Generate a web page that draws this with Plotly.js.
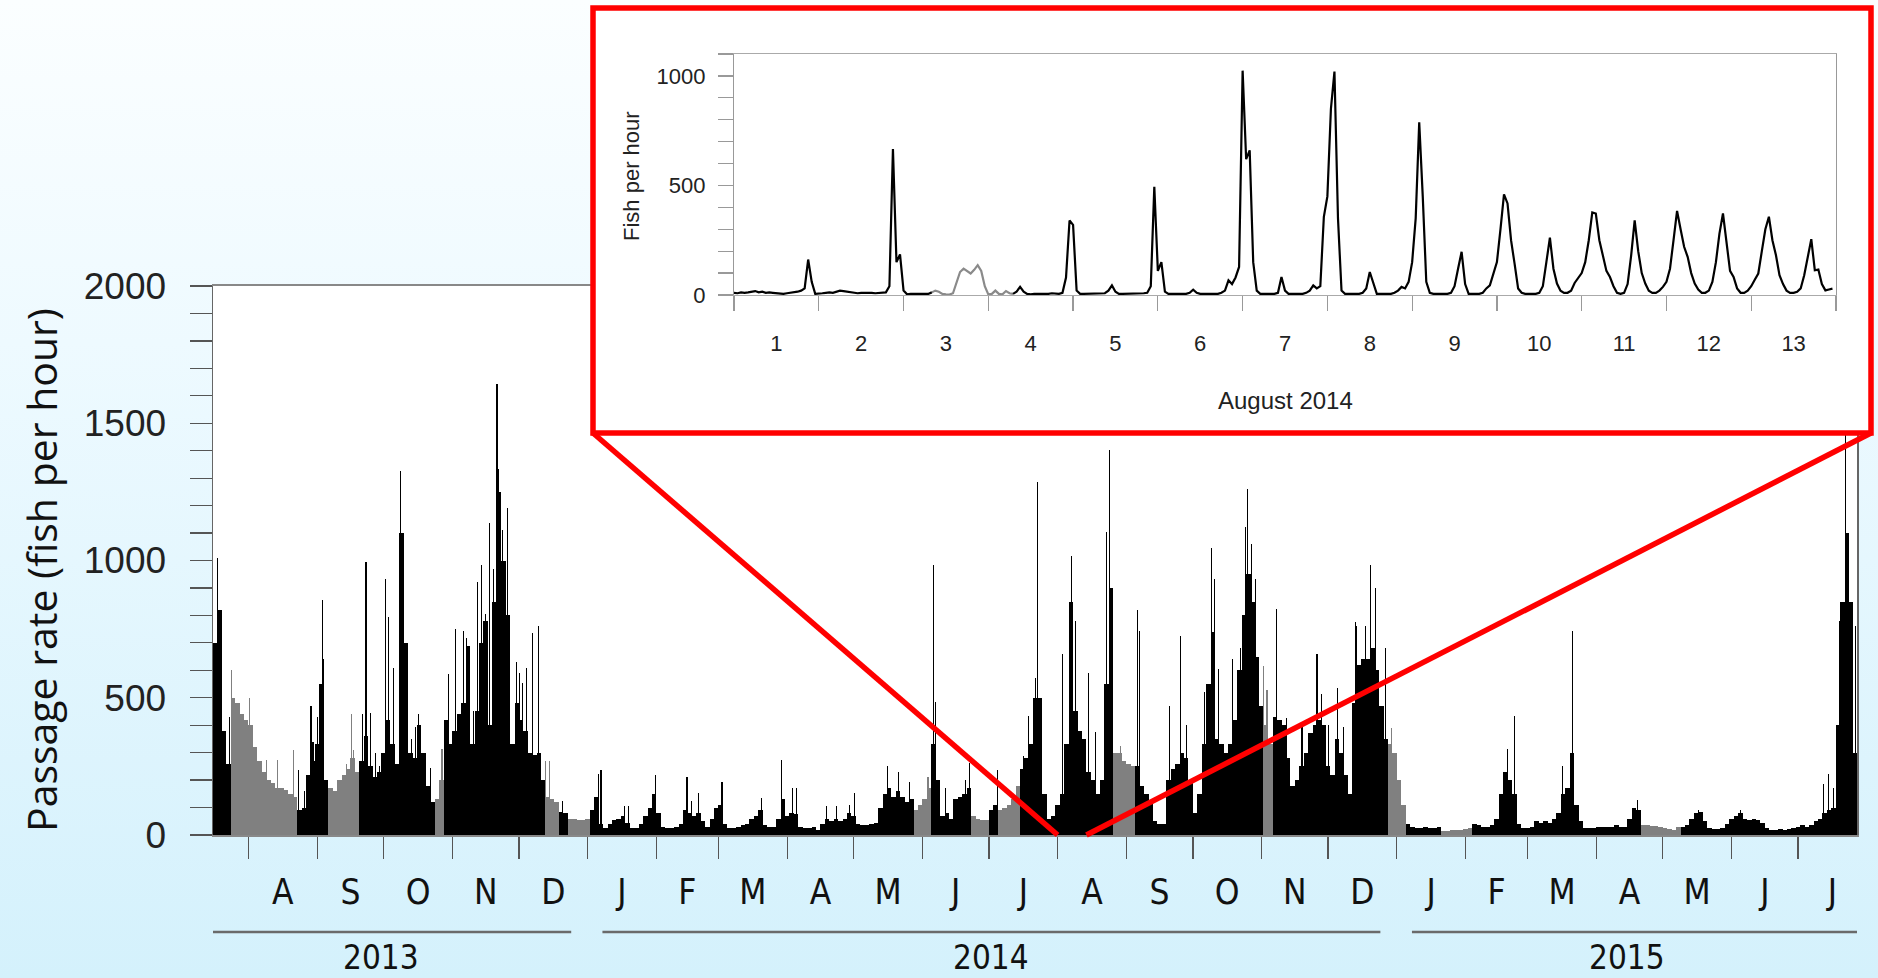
<!DOCTYPE html>
<html><head><meta charset="utf-8">
<script src="https://cdn.plot.ly/plotly-3.0.1.min.js"></script>
<style>
html,body{margin:0;padding:0;}
body{width:1878px;height:978px;overflow:hidden;background:linear-gradient(to bottom,#fbfeff 0%,#eefaff 35%,#d4f1fc 100%);}
#chart{width:1878px;height:978px;}
</style></head><body><div id="chart"></div>
<script>
// ---------------- DATA ----------------
// Main chart: passage rate, one value per 2-day bin starting 16 Jul 2013 (fish per hour)
const binStart = '2013-07-16';
const binDays = 2;
const rateJul2013toDec2013 = [700,820,380,260,500,480,440,420,400,320,
 270,230,200,190,170,170,165,150,140,90,
 100,220,270,330,550,200,170,160,200,220,
 240,280,230,270,360,250,210,230,300,420,
 330,260,1100,700,300,280,400,300,180,120,
 130,200,420,330,380,440,480,690,330,450,
 700,780,400,850,1250,1000,800,330,480,420,
 380,300,290,300,200,140,130,120,85,80,
 60,60,55,55];
const rateDec2013toDec2014 = [60,90,140,40,25,40,55,60,70,45,25,25,40,70,100,150,
 80,30,25,25,30,40,90,80,70,80,
 50,30,60,100,110,40,25,25,30,35,
 40,60,70,90,35,30,30,60,130,70,
 80,75,30,25,25,30,20,40,60,50,
 60,50,60,80,70,40,35,35,40,45,
 100,150,170,140,160,140,120,130,90,110,
 130,170,330,200,70,80,60,130,140,150,
 170,70,60,55,55,90,110,90,100,110,
 130,180,240,280,330,500,500,150,60,70,
 110,150,330,850,450,380,350,230,200,150,
 200,550,900,300,300,270,260,250,250,180,
 150,120,50,40,40,200,240,260,300,280,
 200,80,150,330,550,740,350,330,300,330,
 420,600,800,950,850,650,470,400,330,430,
 420,400,280,180,200,250,300,370,400,420,
 400,250,220,350,300,220,150,480,620,640,
 640,680,600,470,350,330,300];
const rateDec2014toJul2015 = [200,110,40,
 30,25,25,30,25,25,30,15,15,18,
 18,20,22,25,40,35,30,30,35,60,
 150,230,200,150,40,25,25,30,50,45,
 50,45,60,80,150,170,300,110,50,25,
 25,25,30,30,30,30,35,30,30,60,
 100,90,38,36,34,32,28,25,22,20,
 30,30,35,60,80,85,50,25,22,22,
 25,40,60,70,80,60,55,60,55,45,
 25,20,20,22,20,22,25,30,35,30,
 35,50,60,80,90,100,400,850,1100,850,
 300];
// Periods drawn in grey (start inclusive, end exclusive)
const greyPeriods = [
 ['2013-07-24','2013-08-23'],['2013-09-06','2013-09-20'],['2013-10-24','2013-10-28'],
 ['2013-12-13','2013-12-19'],['2013-12-23','2014-01-02'],['2014-05-28','2014-06-05'],
 ['2014-06-23','2014-07-01'],['2014-07-05','2014-07-15'],['2014-08-26','2014-09-05'],
 ['2014-11-02','2014-11-06'],['2014-12-28','2015-01-05'],['2015-01-21','2015-02-04'],
 ['2015-04-21','2015-05-09']];
// Isolated hourly peaks
const spikeBlackDates = ['2013-07-18 05:00','2013-07-23 07:00','2013-08-23 14:00','2013-08-26 02:00','2013-08-29 05:00','2013-08-30 02:00','2013-09-01 07:00','2013-09-03 07:00','2013-09-03 22:00','2013-09-21 14:00','2013-09-23 00:00','2013-09-25 00:00','2013-09-27 05:00','2013-09-29 02:00','2013-10-02 00:00','2013-10-03 05:00','2013-10-05 10:00','2013-10-08 12:00','2013-10-09 22:00','2013-10-13 17:00','2013-10-15 05:00','2013-10-16 14:00','2013-10-22 00:00','2013-10-30 07:00','2013-11-02 14:00','2013-11-06 00:00','2013-11-07 12:00','2013-11-10 12:00','2013-11-12 05:00','2013-11-14 07:00','2013-11-16 02:00','2013-11-17 19:00','2013-11-19 14:00','2013-11-21 02:00','2013-11-21 14:00','2013-11-23 14:00','2013-11-25 22:00','2013-11-29 22:00','2013-12-01 07:00','2013-12-02 14:00','2013-12-04 14:00','2013-12-07 00:00','2013-12-10 00:00','2013-12-20 19:00',
 '2014-01-05 22:00','2014-01-07 00:00','2014-01-17 17:00','2014-01-19 12:00','2014-01-31 12:00','2014-02-14 19:00','2014-02-17 00:00','2014-02-20 00:00','2014-03-02 14:00','2014-03-20 14:00','2014-03-29 14:00','2014-04-03 10:00','2014-04-05 02:00','2014-04-18 22:00','2014-04-23 10:00','2014-04-29 02:00','2014-05-01 10:00','2014-05-16 10:00','2014-05-21 05:00','2014-05-26 05:00','2014-06-06 00:00','2014-06-07 02:00','2014-06-11 07:00','2014-06-20 07:00','2014-06-22 02:00','2014-07-04 22:00','2014-07-16 14:00','2014-07-18 22:00','2014-07-21 22:00','2014-07-23 02:00','2014-08-03 00:00','2014-08-06 17:00','2014-08-07 10:00','2014-08-09 05:00','2014-08-15 00:00','2014-08-17 22:00','2014-08-22 22:00','2014-08-24 07:00','2014-09-06 05:00','2014-09-07 00:00','2014-09-20 12:00','2014-09-25 14:00','2014-09-28 07:00','2014-10-06 07:00','2014-10-09 14:00','2014-10-10 14:00','2014-10-12 14:00','2014-10-18 22:00','2014-10-22 10:00','2014-10-24 14:00','2014-10-25 19:00','2014-10-27 14:00','2014-10-29 02:00','2014-11-07 14:00','2014-11-12 10:00','2014-11-19 05:00','2014-11-22 05:00','2014-11-26 00:00','2014-11-27 22:00','2014-12-01 05:00','2014-12-05 10:00','2014-12-08 00:00','2014-12-13 05:00','2014-12-14 00:00','2014-12-17 17:00','2014-12-20 05:00','2014-12-22 07:00','2014-12-27 00:00',
 '2015-02-19 22:00','2015-02-23 02:00','2015-03-16 19:00','2015-03-21 07:00','2015-04-19 12:00','2015-05-17 00:00','2015-06-04 22:00','2015-07-12 12:00','2015-07-14 17:00','2015-07-17 00:00','2015-07-19 12:00','2015-07-22 05:00','2015-07-27 00:00'];
const spikeBlackValues = [1010,430,237,160,470,340,430,857,640,440,996,445,300,250,933,794,610,1325,945,350,395,440,243,585,750,743,718,452,920,983,806,1135,970,1642,1335,1110,1192,630,590,553,610,737,762,123,
 224,237,104,104,218,211,123,154,192,135,275,173,173,104,104,110,154,250,230,192,983,483,173,200,262,237,287,433,572,1287,660,806,1015,781,590,376,1104,1401,819,743,470,724,401,521,1047,933,604,642,680,1123,1262,1060,933,825,427,401,363,660,515,401,534,395,775,760,762,983,901,680,
 313,433,250,743,129,91,91,186,224,173,781,1800,762];
const spikeGreyDates = ['2013-07-24 12:00','2013-08-01 07:00','2013-08-09 07:00','2013-08-14 07:00','2013-08-21 07:00','2013-09-14 10:00','2013-09-16 14:00','2013-09-17 10:00','2013-10-27 07:00','2013-12-12 22:00','2013-12-14 17:00','2014-06-03 12:00','2014-07-13 14:00','2014-08-29 05:00','2014-11-01 22:00','2014-11-03 10:00','2014-12-29 19:00'];
const spikeGreyValues = [600,500,275,275,310,260,440,310,313,268,268,211,173,325,616,528,389];

const monthLetters = ['A','S','O','N','D','J','F','M','A','M','J','J','A','S','O','N','D','J','F','M','A','M','J','J'];
const monthStarts = ['2013-08-01','2013-09-01','2013-10-01','2013-11-01','2013-12-01','2014-01-01','2014-02-01','2014-03-01','2014-04-01','2014-05-01','2014-06-01','2014-07-01','2014-08-01','2014-09-01','2014-10-01','2014-11-01','2014-12-01','2015-01-01','2015-02-01','2015-03-01','2015-04-01','2015-05-01','2015-06-01','2015-07-01','2015-08-01'];
const yearNames = ['2013','2014','2015'];
const yearLabelDates = ['2013-09-30','2014-07-02','2015-04-15'];
const yearLineStarts = ['2013-07-16','2014-01-07 16:00','2015-01-07 20:00'];
const yearLineEnds = ['2013-12-24 14:00','2014-12-24 14:00','2015-07-27 14:00'];
const mainRange = ['2013-07-16','2015-07-27 14:00'];

// Inset: hourly fish per hour, 1-13 August 2014
const augDays = ['1','2','3','4','5','6','7','8','9','10','11','12','13'];
const fishAug01 = [10,8,12,10,12,15,18,12,15,10,12,10,8,5,5,8,10,10,15,20,30,162,60,5];
const fishAug02 = [5,8,10,12,10,15,20,18,15,12,10,8,10,10,12,10,8,10,10,12,40,666,150,185];
const fishAug03 = [20,3,5,5,8,5,8,5,12,20,15,5,3,2,8,60,105,120,110,98,115,136,110,40];
const fishAug04 = [3,5,20,5,3,18,8,5,15,37,15,5,3,5,5,3,5,5,8,5,5,10,80,340];
const fishAug05 = [320,20,5,5,5,5,5,5,5,8,20,44,15,5,5,5,5,5,5,5,8,10,40,494];
const fishAug06 = [110,150,15,5,5,5,5,5,5,10,24,10,5,5,5,5,5,5,10,20,67,50,80,128];
const fishAug07 = [1024,620,660,150,20,5,5,5,5,5,10,82,20,5,5,5,5,5,10,20,44,30,40,357];
const fishAug08 = [450,850,1020,350,20,5,5,5,5,5,10,30,105,60,5,5,5,5,5,10,20,37,30,60];
const fishAug09 = [150,350,788,450,60,10,5,5,5,5,5,10,40,120,197,50,5,5,5,5,10,30,44,100];
const fishAug10 = [150,300,459,418,250,143,30,10,5,5,5,5,10,40,150,262,120,52,20,10,10,20,55,80];
const fishAug11 = [100,150,250,377,372,250,174,110,82,40,10,5,10,50,180,341,200,100,52,20,10,10,20,37];
const fishAug12 = [60,120,250,384,300,220,174,100,52,25,10,10,20,60,150,280,372,250,110,82,30,10,10,20];
const fishAug13 = [40,70,98,200,300,357,250,181,90,50,20,10,10,15,30,90,180,255,113,116,50,21,25,29];
const insetStart = '2014-08-01';
const insetGrey = ['2014-08-03 08:00','2014-08-04 07:00'];
const insetRange = ['2014-08-01','2014-08-14'];
const zoomSpan = ['2014-08-01','2014-08-14'];

// ---------------- BUILD ----------------
const DAY = 86400000, HOUR = 3600000;
function ms(s){ const p=s.split(' '); const d=p[0].split('-').map(Number); let h=0,mi=0; if(p[1]){const t=p[1].split(':').map(Number);h=t[0];mi=t[1];} return Date.UTC(d[0],d[1]-1,d[2],h,mi); }
const rate = [].concat(rateJul2013toDec2013, rateDec2013toDec2014, rateDec2014toJul2015);
const b0 = ms(binStart);
const binX = [], blackY = [], greyY = [];
const gp = greyPeriods.map(p=>[ms(p[0]),ms(p[1])]);
rate.forEach((v,k)=>{
  const s = b0 + k*binDays*DAY;
  binX.push(s + binDays*DAY/2);
  const isGrey = gp.some(p=>s>=p[0] && s<p[1]);
  blackY.push(isGrey?null:v); greyY.push(isGrey?v:null);
});
const monthMid = [];
for(let i=0;i<monthLetters.length;i++) monthMid.push((ms(monthStarts[i])+ms(monthStarts[i+1]))/2);
const monthTicks = monthStarts.slice(0,monthLetters.length).map(ms);

const fishAll = [].concat(fishAug01,fishAug02,fishAug03,fishAug04,fishAug05,fishAug06,fishAug07,fishAug08,fishAug09,fishAug10,fishAug11,fishAug12,fishAug13);
const i0 = ms(insetStart), g0 = ms(insetGrey[0]), g1 = ms(insetGrey[1]);
const fx=[], fBlack=[], fGrey=[];
fishAll.forEach((v,h)=>{
  const t = i0 + h*HOUR; fx.push(t);
  const inG = t>=g0 && t<=g1;
  fBlack.push((t>g0 && t<g1)?null:v);
  fGrey.push(inG?v:null);
});
const dayMid = augDays.map((d,i)=>i0 + i*DAY + DAY/2);
const dayTicks = []; for(let i=0;i<=augDays.length;i++) dayTicks.push(i0+i*DAY);

// geometry (paper fractions)
const W=1878,H=978;
const mainX=[213/W,1857/W], mainY=[(H-835)/H,(H-286)/H];
const coverX=[593/W,1872/W], coverY=[(H-434)/H,(H-6)/H];
const insX=[734/W,1836/W], insY=[(H-295)/H,(H-54)/H];
const r0=ms(mainRange[0]), r1=ms(mainRange[1]);
function paperX(s){ return mainX[0] + (ms(s)-r0)/(r1-r0)*(mainX[1]-mainX[0]); }

const NARROW = '"Liberation Sans Narrow","Arial Narrow","DejaVu Sans Condensed","Liberation Sans",sans-serif';
const ARIAL = '"Liberation Sans",Arial,sans-serif';

const traces = [
 {type:'bar', x:binX, y:blackY, width:binDays*DAY, marker:{color:'#000000', line:{width:0}}, xaxis:'x', yaxis:'y', hoverinfo:'skip'},
 {type:'bar', x:binX, y:greyY, width:binDays*DAY, marker:{color:'#808080', line:{width:0}}, xaxis:'x', yaxis:'y', hoverinfo:'skip'},
 {type:'bar', x:spikeGreyDates.map(ms), y:spikeGreyValues, width:0.5*DAY, marker:{color:'#808080', line:{width:0}}, xaxis:'x', yaxis:'y', hoverinfo:'skip'},
 {type:'bar', x:spikeBlackDates.map(ms), y:spikeBlackValues, width:0.5*DAY, marker:{color:'#000000', line:{width:0}}, xaxis:'x', yaxis:'y', hoverinfo:'skip'},
 {type:'scatter', mode:'lines', x:[], y:[], xaxis:'x2', yaxis:'y2', hoverinfo:'skip'},
 {type:'scatter', mode:'lines', x:fx, y:fGrey, line:{color:'#8a8a8a', width:2.2}, xaxis:'x3', yaxis:'y3', connectgaps:false, hoverinfo:'skip'},
 {type:'scatter', mode:'lines', x:fx, y:fBlack, line:{color:'#000000', width:2.2}, xaxis:'x3', yaxis:'y3', connectgaps:false, hoverinfo:'skip'}
];

const shapes = [];
yearNames.forEach((y,i)=>shapes.push({type:'line', xref:'x', yref:'paper', x0:yearLineStarts[i], x1:yearLineEnds[i], y0:(H-932)/H, y1:(H-932)/H, line:{color:'#6a6a6a', width:2.5}}));
shapes.push({type:'rect', xref:'paper', yref:'paper', x0:593/W, x1:1871/W, y0:(H-433)/H, y1:(H-8)/H, line:{color:'#ff0000', width:5.5}, fillcolor:'rgba(0,0,0,0)'});
shapes.push({type:'line', xref:'paper', yref:'paper', x0:593/W, y0:(H-433)/H, x1:paperX(zoomSpan[0]), y1:mainY[0], line:{color:'#ff0000', width:5.5}});
shapes.push({type:'line', xref:'paper', yref:'paper', x0:1871/W, y0:(H-433)/H, x1:paperX(zoomSpan[1]), y1:mainY[0], line:{color:'#ff0000', width:5.5}});

const annotations = [
 {text:'Passage rate (fish per hour)', xref:'paper', yref:'paper', x:41/W, y:(H-570)/H, xanchor:'center', yanchor:'middle', textangle:-90, showarrow:false, font:{family:'"Open Sans",sans-serif', size:41, color:'#111'}},
 {text:'Fish per hour', xref:'paper', yref:'paper', x:631/W, y:(H-176)/H, xanchor:'center', yanchor:'middle', textangle:-90, showarrow:false, font:{family:ARIAL, size:22, color:'#222'}},
 {text:'August 2014', xref:'paper', yref:'paper', x:1285/W, y:(H-400)/H, xanchor:'center', yanchor:'middle', showarrow:false, font:{family:ARIAL, size:24, color:'#222'}}
];
yearNames.forEach((y,i)=>annotations.push({text:y, xref:'x', yref:'paper', x:yearLabelDates[i], y:(H-957)/H, xanchor:'center', yanchor:'middle', showarrow:false, font:{family:NARROW, size:33, color:'#111'}}));

const layout = {
 width:W, height:H, margin:{l:0,r:0,t:0,b:0}, paper_bgcolor:'rgba(0,0,0,0)', plot_bgcolor:'#ffffff',
 showlegend:false, barmode:'overlay', bargap:0,
 xaxis:{domain:mainX, anchor:'y', type:'date', range:[r0,r1], tickmode:'array', tickvals:monthMid, ticktext:monthLetters, ticks:'', ticklabelstandoff:25,
   tickfont:{family:NARROW, size:35, color:'#111'}, showline:true, linecolor:'#888', linewidth:2, mirror:true, showgrid:false, zeroline:false,
   minor:{tickmode:'array', tickvals:monthTicks, ticks:'outside', ticklen:22, tickwidth:1.3, tickcolor:'#555', showgrid:false}},
 yaxis:{domain:mainY, anchor:'x', range:[0,2000], tickmode:'array', tickvals:[0,500,1000,1500,2000], ticks:'outside', ticklen:22, tickwidth:1.3, tickcolor:'#555',
   minor:{tickmode:'linear', tick0:0, dtick:100, ticks:'outside', ticklen:22, tickwidth:1.3, tickcolor:'#555', showgrid:false},
   tickfont:{family:ARIAL, size:37, color:'#222'}, ticklabelstandoff:16, showline:true, linecolor:'#666', linewidth:1.5, mirror:true, showgrid:false, zeroline:false},
 xaxis2:{domain:coverX, anchor:'y2', range:[0,1], showgrid:false, zeroline:false, showticklabels:false, showline:false, ticks:'', fixedrange:true},
 yaxis2:{domain:coverY, anchor:'x2', range:[0,1], showgrid:false, zeroline:false, showticklabels:false, showline:false, ticks:'', fixedrange:true},
 xaxis3:{domain:insX, anchor:'y3', type:'date', range:[ms(insetRange[0]),ms(insetRange[1])], tickmode:'array', tickvals:dayMid, ticktext:augDays, ticks:'', ticklabelstandoff:28,
   tickfont:{family:ARIAL, size:22, color:'#222'}, showline:true, linecolor:'#aaa', linewidth:1.2, mirror:true, showgrid:false, zeroline:false,
   minor:{tickmode:'array', tickvals:dayTicks, ticks:'outside', ticklen:15, tickwidth:1.2, tickcolor:'#999', showgrid:false}},
 yaxis3:{domain:insY, anchor:'x3', range:[0,1100], tickmode:'array', tickvals:[0,500,1000], ticks:'outside', ticklen:15, tickwidth:1.2, tickcolor:'#999',
   minor:{tickmode:'linear', tick0:0, dtick:100, ticks:'outside', ticklen:15, tickwidth:1.2, tickcolor:'#999', showgrid:false},
   tickfont:{family:ARIAL, size:22, color:'#222'}, ticklabelstandoff:8, showline:true, linecolor:'#999', linewidth:1.2, mirror:true, showgrid:false,
   zeroline:true, zerolinecolor:'#999', zerolinewidth:2.5},
 shapes:shapes, annotations:annotations
};
Plotly.newPlot('chart', traces, layout, {staticPlot:true, displayModeBar:false});
</script></body></html>
